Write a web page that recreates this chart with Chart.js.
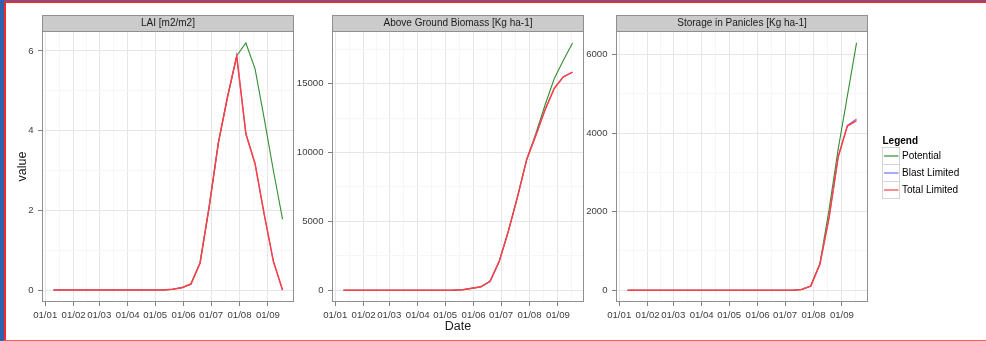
<!DOCTYPE html>
<html>
<head>
<meta charset="utf-8">
<script src="https://cdn.jsdelivr.net/npm/chart.js@4.4.1/dist/chart.umd.min.js"></script>
<style>
html,body{margin:0;padding:0;background:#fff;overflow:hidden;}
#stage{position:relative;width:986px;height:341px;background:#fff;overflow:hidden;}
#stage canvas{position:absolute;top:0;}
#c1{left:0;} #c2{left:290px;} #c3{left:574px;}
.fr{position:absolute;}
</style>
</head>
<body>
<div id="stage">
<canvas id="c1" width="300" height="341"></canvas>
<canvas id="c2" width="300" height="341"></canvas>
<canvas id="c3" width="412" height="341"></canvas>
<div class="fr" style="left:0;top:0;width:4px;height:341px;background:#2f62ad"></div>
<div class="fr" style="left:4px;top:0;width:982px;height:1px;background:#4a64b0"></div>
<div class="fr" style="left:4px;top:1px;width:982px;height:2px;background:#f02a2a"></div>
<div class="fr" style="left:4px;top:1px;width:2px;height:340px;background:#f02a2a"></div>
<div class="fr" style="left:4px;top:340px;width:982px;height:1px;background:#ff5555"></div>
</div>
<script>
// ---- data (day of year, 0 = 01/01) ----
const days = [9,19,29,39,49,59,69,79,89,99,109,119,129,139,149,159,169,179,189,199,209,219,229,239,249,259];
const monthDays = [0,31,59,90,120,151,181,212,243];
const monthLabels = ['01/01','01/02','01/03','01/04','01/05','01/06','01/07','01/08','01/09'];
const nextMonthDay = 273;
const seriesNames = ['Potential','Blast Limited','Total Limited'];
const seriesColors = ['#338f33','#7070ff','#ff4040'];

const laiPotential = [0,0,0,0,0,0,0,0,0,0,0,0,0,0.02,0.06,0.15,0.68,2.1,3.7,4.85,5.88,6.2,5.55,4.3,3.0,1.78];
const laiBlast     = [0,0,0,0,0,0,0,0,0,0,0,0,0,0.02,0.06,0.15,0.68,2.1,3.7,4.85,5.87,3.92,3.17,1.9,0.72,0];
const laiTotal     = [0,0,0,0,0,0,0,0,0,0,0,0,0,0.02,0.06,0.15,0.68,2.1,3.7,4.85,5.87,3.92,3.17,1.9,0.72,0];

const bioPotential = [0,0,0,0,0,0,0,0,0,0,0,0,10,40,140,250,650,2100,4300,6800,9500,11400,13450,15350,16700,17950];
const bioBlast     = [0,0,0,0,0,0,0,0,0,0,0,0,10,40,140,250,650,2100,4300,6800,9500,11250,13100,14650,15500,15830];
const bioTotal     = [0,0,0,0,0,0,0,0,0,0,0,0,10,40,140,250,650,2100,4300,6800,9500,11250,13100,14650,15500,15830];

const storPotential = [0,0,0,0,0,0,0,0,0,0,0,0,0,0,0,0,0,0,0,20,110,680,2050,3600,4950,6300];
const storBlast     = [0,0,0,0,0,0,0,0,0,0,0,0,0,0,0,0,0,0,0,20,105,660,1850,3400,4200,4360];
const storTotal     = [0,0,0,0,0,0,0,0,0,0,0,0,0,0,0,0,0,0,0,20,105,660,1850,3400,4180,4320];

const laiTicks  = [0,2,4,6];
const bioTicks  = [0,5000,10000,15000];
const storTicks = [0,2000,4000,6000];

const panelTitles = ['LAI [m2/m2]','Above Ground Biomass [Kg ha-1]','Storage in Panicles [Kg ha-1]'];

// ---- rendering ----
const FONT = '"Liberation Sans", Arial, Helvetica, sans-serif';
Chart.defaults.font.family = FONT;
const X_MIN = -3.5, X_MAX = 271.5;
const lineWidths = [1.1, 1.1, 1.5];

const xMinor = [];
const xm = monthDays.concat([nextMonthDay]);
for (let i = 0; i < xm.length - 1; i++) xMinor.push((xm[i] + xm[i+1]) / 2);
const xAll = monthDays.concat(xMinor.filter(v => v >= X_MIN && v <= X_MAX)).sort((a,b)=>a-b);

function isMaj(arr, v) { return arr.some(m => Math.abs(m - v) < 1e-9); }

const facetPlugin = {
  id: 'facet',
  afterDraw(chart, args, o) {
    const ctx = chart.ctx, a = chart.chartArea;
    ctx.save();
    const L = Math.round(a.left), R = Math.round(a.right), T = Math.round(a.top), B = Math.round(a.bottom);
    ctx.lineWidth = 1;
    ctx.strokeStyle = '#8f8f8f';
    ctx.strokeRect(L + 0.5, T + 0.5, R - L - 1, B - T - 1);
    // strip
    const sTop = 15;
    ctx.fillStyle = '#cbcbcb';
    ctx.fillRect(L, sTop, R - L, T - sTop);
    ctx.strokeStyle = '#8f8f8f';
    ctx.strokeRect(L + 0.5, sTop + 0.5, R - L - 1, T - sTop);
    ctx.fillStyle = '#1a1a1a';
    ctx.font = '10px ' + FONT;
    ctx.textAlign = 'center';
    ctx.textBaseline = 'middle';
    ctx.fillText(o.title, (L + R) / 2, (sTop + T) / 2 + 0.5);
    if (o.legend) {
      const lx = R + 14.5, ly0 = 147.5;
      ctx.textAlign = 'left';
      ctx.fillStyle = '#000';
      ctx.font = 'bold 10px ' + FONT;
      ctx.fillText('Legend', R + 14.5, 141.5);
      ctx.font = '10px ' + FONT;
      chart.data.datasets.forEach((ds, i) => {
        const y = ly0 + i * 17;
        ctx.fillStyle = '#fff';
        ctx.fillRect(lx, y, 17, 17);
        ctx.strokeStyle = '#d5d5d5';
        ctx.strokeRect(lx, y, 17, 17);
        ctx.strokeStyle = ds.borderColor;
        ctx.lineWidth = 1.2;
        ctx.beginPath();
        ctx.moveTo(lx + 1.5, y + 8.5);
        ctx.lineTo(lx + 16, y + 8.5);
        ctx.stroke();
        ctx.lineWidth = 1;
        ctx.fillStyle = '#000';
        ctx.fillText(ds.label, lx + 19.5, y + 9);
      });
    }
    ctx.restore();
  }
};

function makeChart(canvasId, title, series, yMin, yMax, yMajor, cfg) {
  const step = yMajor[1] - yMajor[0];
  const yMinorArr = [yMajor[0] - step / 2].concat(yMajor.map(m => m + step / 2)).filter(v => v > yMin && v < yMax);
  const yAll = yMajor.concat(yMinorArr).sort((a,b)=>a-b);
  return new Chart(document.getElementById(canvasId), {
    type: 'line',
    data: {
      datasets: seriesNames.map((name, i) => ({
        label: name,
        data: days.map((d, k) => ({x: d, y: series[i][k]})),
        borderColor: seriesColors[i],
        backgroundColor: seriesColors[i],
        borderWidth: lineWidths[i],
        pointRadius: 0,
        tension: 0,
        fill: false,
        order: 3 - i
      }))
    },
    options: {
      responsive: false,
      animation: false,
      events: [],
      devicePixelRatio: 1,
      layout: { padding: { left: 0, right: cfg.padRight, top: 31, bottom: 0 } },
      plugins: {
        legend: { display: false },
        tooltip: { enabled: false },
        facet: { title: title, legend: !!cfg.legend }
      },
      scales: {
        x: {
          type: 'linear', min: X_MIN, max: X_MAX, bounds: 'data',
          afterBuildTicks: s => { s.ticks = xAll.map(v => ({value: v})); },
          afterFit: s => { s.height = 39; },
          ticks: {
            autoSkip: false, maxRotation: 0, minRotation: 0, padding: 3.5,
            color: '#3d3d3d', font: { size: 9.6 },
            callback: v => { const i = monthDays.indexOf(v); return i >= 0 ? monthLabels[i] : ''; }
          },
          grid: {
            color: c => (c.tick && isMaj(monthDays, c.tick.value)) ? '#e6e6e6' : '#f6f6f6',
            tickColor: c => (c.tick && isMaj(monthDays, c.tick.value)) ? '#808080' : 'rgba(0,0,0,0)',
            tickLength: 4, lineWidth: 1
          },
          border: { display: false },
          title: cfg.xTitle ? { display: true, text: 'Date', font: { size: 12.5 }, color: '#1a1a1a', padding: { top: 0, bottom: 6.8 } } : { display: false }
        },
        y: {
          type: 'linear', min: yMin, max: yMax, bounds: 'data',
          afterBuildTicks: s => { s.ticks = yAll.map(v => ({value: v})); },
          afterFit: s => { s.width = 42; },
          ticks: {
            autoSkip: false, padding: 4.5, color: '#3d3d3d', font: { size: 9.6 },
            callback: v => isMaj(yMajor, v) ? String(v) : ''
          },
          grid: {
            color: c => (c.tick && isMaj(yMajor, c.tick.value)) ? '#e6e6e6' : '#f6f6f6',
            tickColor: c => (c.tick && isMaj(yMajor, c.tick.value)) ? '#808080' : 'rgba(0,0,0,0)',
            tickLength: 4, lineWidth: 1
          },
          border: { display: false },
          title: cfg.yTitle ? { display: true, text: 'value', font: { size: 12.5 }, color: '#1a1a1a', padding: { top: 14.8, bottom: 0 } } : { display: false }
        }
      }
    },
    plugins: [facetPlugin]
  });
}

makeChart('c1', panelTitles[0], [laiPotential, laiBlast, laiTotal], -0.3, 6.5, laiTicks, { padRight: 6, yTitle: true });
makeChart('c2', panelTitles[1], [bioPotential, bioBlast, bioTotal], -850, 18820, bioTicks, { padRight: 6, xTitle: true });
makeChart('c3', panelTitles[2], [storPotential, storBlast, storTotal], -300, 6600, storTicks, { padRight: 118, legend: true });
</script>
</body>
</html>
